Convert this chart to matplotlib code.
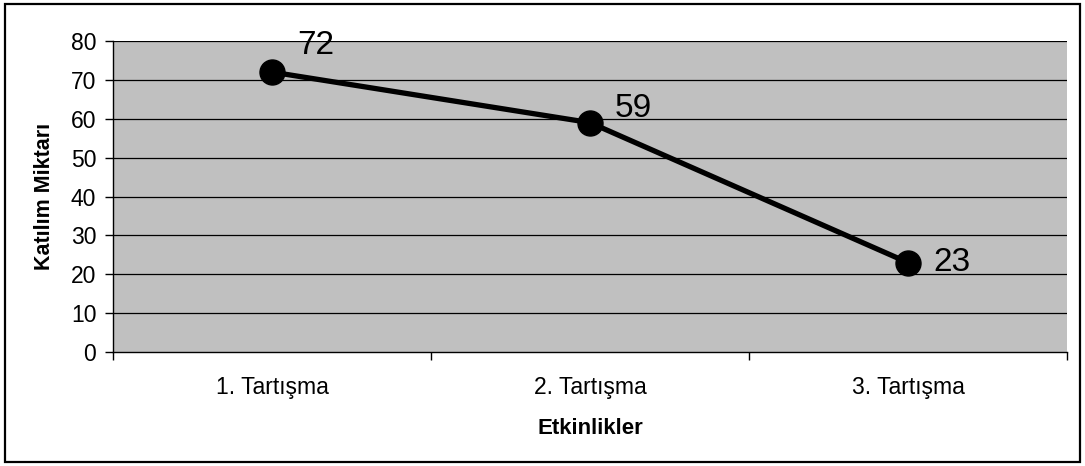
import numpy as np
import matplotlib
matplotlib.use("Agg")
from matplotlib import pyplot as plt
from matplotlib.patches import Rectangle

# Data
categories = ["1. Tartışma", "2. Tartışma", "3. Tartışma"]
values = [72, 59, 23]
y_ticks = [0, 10, 20, 30, 40, 50, 60, 70, 80]

# label offsets in points (style only)
label_offsets = [(18, 19), (18, 10), (18, 0)]

plt.rcParams['font.family'] = ['Liberation Sans', 'DejaVu Sans']

fig = plt.figure(figsize=(10.85, 4.66), dpi=100)
ax = fig.add_axes([113 / 1085, 1 - 352 / 466, (1067 - 113) / 1085, (352 - 41) / 466])

ax.set_facecolor("#C0C0C0")
x = np.arange(1, len(categories) + 1)

for yt in y_ticks[1:]:
    ax.axhline(yt, color="black", linewidth=0.9, zorder=1)

ax.plot(x, values, color="black", linewidth=3.8, marker="o", markersize=18,
        zorder=3, clip_on=False)

for xi, v, off in zip(x, values, label_offsets):
    ax.annotate(str(v), (xi, v), xytext=off, textcoords="offset points",
                fontsize=24, ha="left", va="center", zorder=4)

ax.set_xlim(0.5, len(categories) + 0.5)
ax.set_ylim(0, 80)
ax.set_yticks(y_ticks)
ax.tick_params(axis="y", labelsize=16.5, length=6, width=1, direction="out", pad=6)

ax.set_xticks(x)
ax.set_xticklabels(categories, fontsize=16.5)
ax.tick_params(axis="x", which="major", length=0, pad=17)
ax.set_xticks(np.arange(0.5, len(categories) + 1, 1), minor=True)
ax.tick_params(axis="x", which="minor", length=6, width=1, direction="out")

for s in ["top", "right"]:
    ax.spines[s].set_visible(False)
ax.spines["left"].set_linewidth(1)
ax.spines["bottom"].set_linewidth(1)

fig.text(590 / 1085, 1 - 428 / 466, "Etkinlikler", fontsize=16, fontweight="bold",
         ha="center", va="center")
fig.text(45 / 1085, 1 - 196 / 466, "Katılım Miktarı", fontsize=15.5, fontweight="bold",
         ha="center", va="center", rotation=90)

# outer frame
fig.patches.append(Rectangle((5 / 1085, 4 / 466), 1075 / 1085, 458 / 466,
                             transform=fig.transFigure, fill=False,
                             edgecolor="black", linewidth=1.6))

plt.savefig("out.png", dpi=100)
